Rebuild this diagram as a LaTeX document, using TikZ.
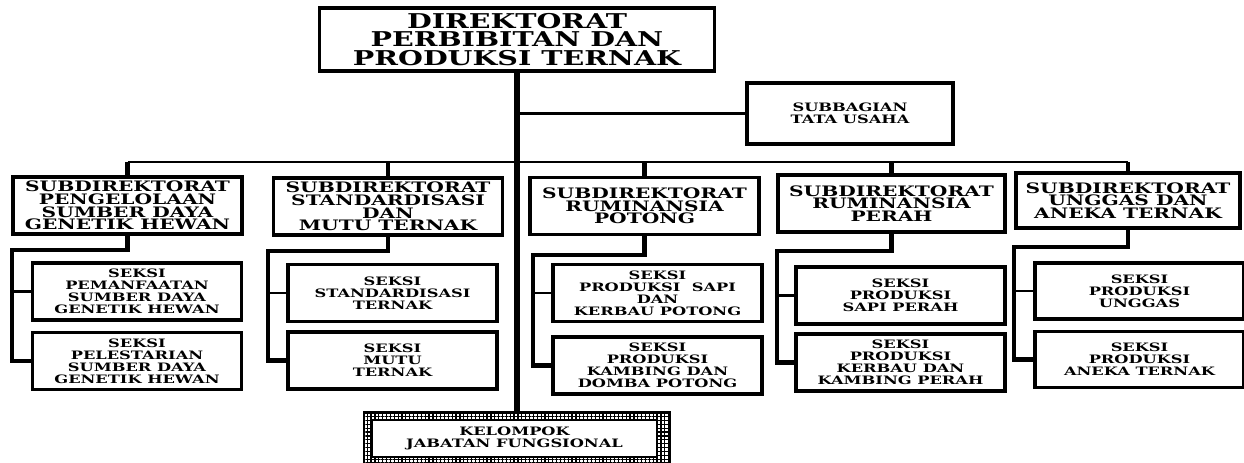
\documentclass[tikz,border=0pt]{standalone}
\usepackage{fontspec}
\usepackage{tikz}
\usetikzlibrary{positioning, patterns.meta}
\newfontfamily\orgfont{DejaVu Serif}[FakeStretch=1.4]

\begin{document}
\begin{tikzpicture}[x=0.02cm, y=-0.02cm,
        box/.style={draw, line width=1.8pt, fill=white, align=center, inner sep=1pt},
        headbox/.style={box, minimum width=7.9cm, minimum height=1.26cm,
            font=\orgfont\bfseries\fontsize{11.6}{10.3}\selectfont},
        sdbox/.style={box, minimum width=4.58cm, minimum height=1.14cm,
            font=\orgfont\bfseries\fontsize{8.2}{7.2}\selectfont},
        seksibox/.style={box, minimum width=4.18cm, minimum height=1.14cm,
            font=\orgfont\bfseries\fontsize{6.6}{6.8}\selectfont},
        mainline/.style={line width=3pt},
        busline/.style={line width=1.3pt},
        dropline/.style={line width=2.4pt},
        stubline/.style={line width=1.3pt}]
        \useasboundingbox (0,0) rectangle (1244,463);

        % Boxes
        \node[headbox] (dir) at (517, 39.5) {DIREKTORAT\\PERBIBITAN DAN\\PRODUKSI TERNAK};
        \node[seksibox, minimum width=4.12cm, minimum height=1.22cm] (tu) at (850, 113.5) {SUBBAGIAN\\TATA USAHA};

        \node[sdbox] (sd1) at (127.5, 205.5) {SUBDIREKTORAT\\PENGELOLAAN\\SUMBER DAYA\\GENETIK HEWAN};
        \node[sdbox] (sd2) at (388, 206.5) {SUBDIREKTORAT\\STANDARDISASI\\DAN\\MUTU TERNAK};
        \node[sdbox] (sd3) at (644.5, 206) {SUBDIREKTORAT\\RUMINANSIA\\POTONG};
        \node[sdbox, minimum width=4.54cm] (sd4) at (891.5, 203.5) {SUBDIREKTORAT\\RUMINANSIA\\PERAH};
        \node[sdbox, minimum width=4.48cm, minimum height=1.1cm] (sd5) at (1128, 200.5) {SUBDIREKTORAT\\UNGGAS DAN\\ANEKA TERNAK};

        \node[seksibox] (s1a) at (137, 291.5) {SEKSI\\PEMANFAATAN\\SUMBER DAYA\\GENETIK HEWAN};
        \node[seksibox] (s1b) at (137, 361) {SEKSI\\PELESTARIAN\\SUMBER DAYA\\GENETIK HEWAN};
        \node[seksibox] (s2a) at (392.5, 293) {SEKSI\\STANDARDISASI\\TERNAK};
        \node[seksibox] (s2b) at (392.5, 360.5) {SEKSI\\MUTU\\TERNAK};
        \node[seksibox] (s3a) at (657.5, 293) {SEKSI\\PRODUKSI\ \ SAPI\\DAN\\KERBAU POTONG};
        \node[seksibox] (s3b) at (657.5, 365.5) {SEKSI\\PRODUKSI\\KAMBING DAN\\DOMBA POTONG};
        \node[seksibox] (s4a) at (900.5, 295.5) {SEKSI\\PRODUKSI\\SAPI PERAH};
        \node[seksibox] (s4b) at (900.5, 362.5) {SEKSI\\PRODUKSI\\KERBAU DAN\\KAMBING PERAH};
        \node[seksibox, minimum height=1.12cm] (s5a) at (1139.5, 291) {SEKSI\\PRODUKSI\\UNGGAS};
        \node[seksibox, minimum height=1.12cm] (s5b) at (1139.5, 359.5) {SEKSI\\PRODUKSI\\ANEKA TERNAK};

        % Kelompok box with grid frame
        \node[draw, line width=1.4pt, minimum width=6.12cm, minimum height=1.1cm,
            pattern={Hatch[distance=2.2pt, angle=0, line width=0.7pt]}] (kel) at (517, 440) {};
        \node[seksibox, line width=1pt, minimum width=5.7cm, minimum height=0.74cm] (kelin) at (514.5, 438.5) {KELOMPOK\\JABATAN FUNGSIONAL};

        % Points
        \coordinate (bus) at (517, 162);
        \coordinate (c1) at (12, 250);
        \coordinate (c2) at (268, 251);
        \coordinate (c3) at (533, 255);
        \coordinate (c4) at (777, 251);
        \coordinate (c5) at (1014, 247);

        % Lines
        \draw[busline] (dir.south |- tu.west) -- (tu.west);
        \draw[busline] (sd1.north |- bus) -- (sd5.north |- bus);
        \foreach \n in {sd1, sd2, sd3, sd4, sd5}
            \draw[dropline] (\n.north |- bus) -- (\n.north);
        \draw[mainline] (dir.south) -- (kel.north);

        \draw[dropline] (sd1.south) |- (c1) |- (s1b.west);
        \draw[stubline] (c1 |- s1a.west) -- (s1a.west);
        \draw[dropline] (sd2.south) |- (c2) |- (s2b.west);
        \draw[stubline] (c2 |- s2a.west) -- (s2a.west);
        \draw[dropline] (sd3.south) |- (c3) |- (s3b.west);
        \draw[stubline] (c3 |- s3a.west) -- (s3a.west);
        \draw[dropline] (sd4.south) |- (c4) |- (s4b.west);
        \draw[stubline] (c4 |- s4a.west) -- (s4a.west);
        \draw[dropline] (sd5.south) |- (c5) |- (s5b.west);
        \draw[stubline] (c5 |- s5a.west) -- (s5a.west);

\end{tikzpicture}
\end{document}
